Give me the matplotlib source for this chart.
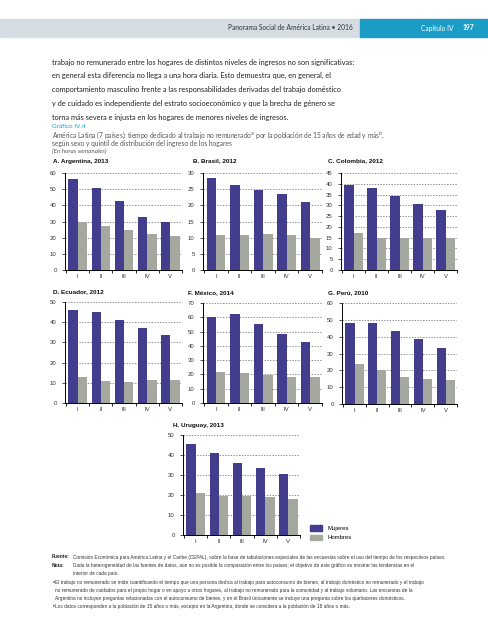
import numpy as np
import matplotlib.pyplot as plt
from matplotlib.patches import Rectangle, Patch

W, H = 489, 640

quintiles = ['I', 'II', 'III', 'IV', 'V']
series = ['Mujeres', 'Hombres']

argentina_m = [56, 50.5, 42.5, 33, 30]
argentina_h = [30, 27, 25, 22, 21]
brasil_m = [28.3, 26.2, 24.7, 23.5, 21]
brasil_h = [10.8, 10.8, 11.1, 10.8, 10]
colombia_m = [39.5, 38, 34.3, 30.5, 27.8]
colombia_h = [17.2, 15, 14.7, 15, 15]
ecuador_m = [46, 45, 41, 37, 33.5]
ecuador_h = [12.8, 11, 10.5, 11.5, 11.5]
mexico_m = [60, 62, 55.5, 48, 42.5]
mexico_h = [21.5, 21, 19.5, 18.5, 18.5]
peru_m = [48, 48, 43.5, 38.5, 33.5]
peru_h = [23.5, 20, 16, 15, 14.5]
uruguay_m = [45.5, 41, 36, 33.5, 30.5]
uruguay_h = [21, 19.5, 19.5, 19, 18]

titles = ['A. Argentina, 2013', 'B. Brasil, 2012', 'C. Colombia, 2012',
          'D. Ecuador, 2012', 'F. México, 2014', 'G. Perú, 2010',
          'H. Uruguay, 2013']
mujeres = [argentina_m, brasil_m, colombia_m, ecuador_m, mexico_m, peru_m, uruguay_m]
hombres = [argentina_h, brasil_h, colombia_h, ecuador_h, mexico_h, peru_h, uruguay_h]
ymax = [60, 30, 45, 50, 70, 60, 50]
ystep = [10, 5, 5, 10, 10, 10, 10]

# layout in pixels: axes box (left, top, right, bottom) and title position
boxes = [(65, 173, 182, 270), (203, 173, 322, 270), (341, 173, 457, 270),
         (65, 302, 182, 403), (203, 303, 322, 403), (342, 303, 457, 404),
         (183, 435, 300, 535)]
title_pos = [(53, 161), (193, 161), (328, 161), (53, 292), (188, 293),
             (328, 293), (173, 425)]

c_muj = '#423D8C'
c_hom = '#A4A89E'
narrow = ['Liberation Sans Narrow', 'Liberation Sans', 'DejaVu Sans']
body = ['Lato', 'DejaVu Sans']

fig = plt.figure(figsize=(W / 100, H / 100), dpi=100)


def fx(x):
    return x / W


def fy(y):
    return 1 - y / H


# header band
fig.patches.append(Rectangle((0, fy(37)), fx(360), 18 / H, transform=fig.transFigure,
                             color='#D5DDE2', zorder=0))
fig.patches.append(Rectangle((fx(360), fy(37)), fx(129), 18 / H, transform=fig.transFigure,
                             color='#1B9DC6', zorder=0))
fig.text(fx(353), fy(28), 'Panorama Social de América Latina • 2016', ha='right', va='center',
         fontsize=4.8, family=body, color='#333333')
fig.text(fx(421), fy(28), 'Capítulo IV', ha='left', va='center', fontsize=4.8,
         family=body, color='white')
fig.text(fx(463), fy(28), '197', ha='left', va='center', fontsize=4.8,
         family=body, color='white', weight='bold')

body_lines = [
    'trabajo no remunerado entre los hogares de distintos niveles de ingresos no son significativas:',
    'en general esta diferencia no llega a una hora diaria. Esto demuestra que, en general, el',
    'comportamiento masculino frente a las responsabilidades derivadas del trabajo doméstico',
    'y de cuidado es independiente del estrato socioeconómico y que la brecha de género se',
    'torna más severa e injusta en los hogares de menores niveles de ingresos.',
]
for i, line in enumerate(body_lines):
    fig.text(fx(52), fy(62 + 13.8 * i), line, ha='left', va='center', fontsize=5.3,
             family=body, color='#222222')

fig.text(fx(52), fy(127), 'Gráfico IV.4', ha='left', va='center', fontsize=4.6,
         family=body, color='#1B9DC6')
fig.text(fx(52), fy(135.5), 'América Latina (7 países): tiempo dedicado al trabajo no remunerado$^{a}$ '
         'por la población de 15 años de edad y más$^{b}$,', ha='left', va='center',
         fontsize=4.8, family=body, color='#555555')
fig.text(fx(52), fy(143.5), 'según sexo y quintil de distribución del ingreso de los hogares',
         ha='left', va='center', fontsize=4.8, family=body, color='#555555')
fig.text(fx(52), fy(151), '(En horas semanales)', ha='left', va='center', fontsize=4.5,
         family=body, color='#555555', style='italic')

pos = np.arange(len(quintiles))
for i in range(len(titles)):
    x0, y0, x1, y1 = boxes[i]
    ax = fig.add_axes([fx(x0), fy(y1), (x1 - x0) / W, (y1 - y0) / H])
    ax.bar(pos - 0.2, mujeres[i], 0.4, color=c_muj, zorder=2)
    ax.bar(pos + 0.2, hombres[i], 0.4, color=c_hom, zorder=2)
    ax.set_xlim(-0.55, 4.5)
    ax.set_ylim(0, ymax[i])
    ax.set_yticks(np.arange(0, ymax[i] + 1, ystep[i]))
    ax.yaxis.grid(True, linestyle=(0, (2, 2)), color='#666666', linewidth=0.5)
    ax.set_axisbelow(True)
    ax.set_xticks(pos)
    ax.set_xticklabels(quintiles)
    ax.set_xticks(np.arange(-0.5, 5, 1), minor=True)
    ax.tick_params(axis='x', which='major', length=0, pad=3)
    ax.tick_params(axis='x', which='minor', length=2, width=0.6, direction='out')
    ax.tick_params(axis='y', length=2, width=0.6, pad=4)
    ax.tick_params(labelsize=4.3, colors='#333333')
    for lab in ax.get_xticklabels() + ax.get_yticklabels():
        lab.set_family(narrow)
    ax.spines['top'].set_visible(False)
    ax.spines['right'].set_visible(False)
    ax.spines['left'].set_linewidth(0.7)
    ax.spines['bottom'].set_linewidth(0.7)
    tx, ty = title_pos[i]
    fig.text(fx(tx), fy(ty), titles[i], ha='left', va='center', fontsize=4.6,
             family=narrow, weight='bold', color='#111111')

handles = [Patch(color=c_muj, label=series[0]), Patch(color=c_hom, label=series[1])]
fig.legend(handles=handles, loc='upper left', bbox_to_anchor=(fx(305), fy(520)),
           frameon=False, prop={'family': narrow, 'size': 4.3}, handlelength=2.0,
           handleheight=1.0, labelspacing=0.6, handletextpad=0.8)

notes = [
    (52, 557, 'Fuente', 73, 'Comisión Económica para América Latina y el Caribe (CEPAL), sobre la base de '
     'tabulaciones especiales de las encuestas sobre el uso del tiempo de los respectivos países.'),
    (52, 565.5, 'Nota', 73, 'Dada la heterogeneidad de las fuentes de datos, aún no es posible la comparación '
     'entre los países; el objetivo de este gráfico es mostrar las tendencias en el'),
    (None, 573.5, None, 73, 'interior de cada país.'),
    (52, 582.5, '$^{a}$', 55, 'El trabajo no remunerado se mide cuantificando el tiempo que una persona dedica al '
     'trabajo para autoconsumo de bienes, al trabajo doméstico no remunerado y el trabajo'),
    (None, 590.5, None, 55, 'no remunerado de cuidados para el propio hogar o en apoyo a otros hogares, al trabajo '
     'no remunerado para la comunidad y al trabajo voluntario. Las encuestas de la'),
    (None, 598.5, None, 55, 'Argentina no incluyen preguntas relacionadas con el autoconsumo de bienes, y en el '
     'Brasil únicamente se incluye una pregunta sobre los quehaceres domésticos.'),
    (52, 606.5, '$^{b}$', 55, 'Los datos corresponden a la población de 15 años o más, excepto en la Argentina, '
     'donde se considera a la población de 18 años o más.'),
]
for lx, y, lab, tx, txt in notes:
    if lab is not None:
        fig.text(fx(lx), fy(y), lab + (':' if lab in ('Fuente', 'Nota') else ''), ha='left',
                 va='center', fontsize=3.5, family=narrow,
                 weight='bold' if lab in ('Fuente', 'Nota') else 'normal', color='#222222')
    fig.text(fx(tx), fy(y), txt, ha='left', va='center', fontsize=3.45, family=narrow,
             color='#333333')

fig.savefig('out.png', dpi=100)
